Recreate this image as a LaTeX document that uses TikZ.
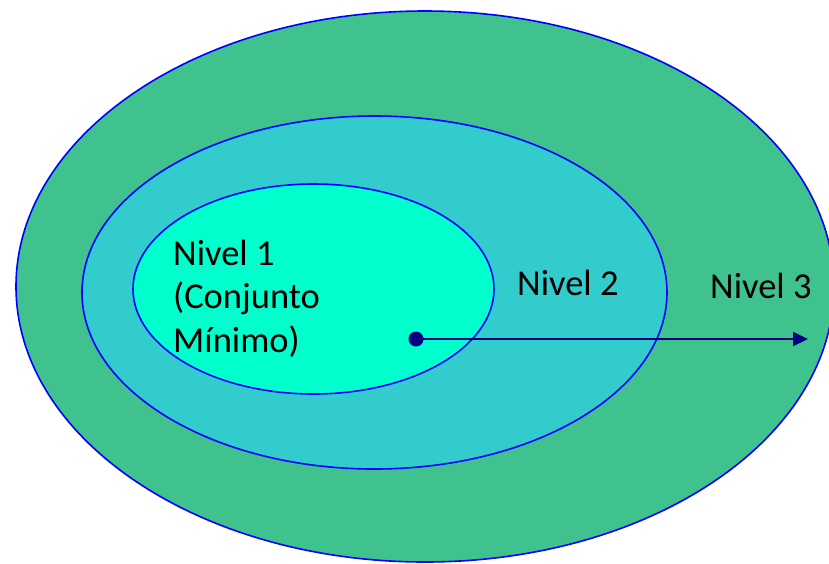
\documentclass[tikz,border=0pt]{standalone}
\usepackage{fontspec}
\setmainfont{Carlito}
\usepackage{tikz}
\usetikzlibrary{arrows.meta, shapes.geometric}
\definecolor{outergreen}{HTML}{40C28F}
\definecolor{midcyan}{HTML}{33CCCC}
\definecolor{innercyan}{HTML}{00FFCC}
\definecolor{navyline}{HTML}{000080}
\tikzstyle{level} = [ellipse, draw=blue, line width=1.6pt, inner sep=0pt]
\tikzstyle{label} = [anchor=base west, inner sep=0pt, align=left,
    font=\fontsize{36.5}{43.5}\selectfont]

\begin{document}
\begin{tikzpicture}[x=1pt, y=-1pt,
dot/.style = {circle, fill=navyline, inner sep=0pt, minimum size=15pt},
reach/.style = {draw=navyline, line width=2pt, -{Triangle[length=15pt, width=14pt]}}
                        ]
\useasboundingbox (0,0) rectangle (829,563);
\begin{scope}
\clip (0,0) rectangle (829,563);
% three nested levels
\node [level, fill=outergreen, minimum width=818pt, minimum height=551pt] (outer) at (425,286.5) {};
\node [level, fill=midcyan, minimum width=585pt, minimum height=353pt] (middle) at (374.5,292.5) {};
\node [level, fill=innercyan, minimum width=361pt, minimum height=210pt] (inner) at (313.5,289) {};
\end{scope}
% labels (base = last line)
\node [label] (n1) at (173,352) {Nivel 1\\(Conjunto\\Mínimo)};
\node [label] (n2) at (517,295) {Nivel 2};
\node [label] (n3) at (710,298) {Nivel 3};
% arrow
\node [dot] (start) at (416,339) {};
\coordinate (tip) at (808,339);
\draw [reach] (start.center) -- (tip);
\end{tikzpicture}
\end{document}
